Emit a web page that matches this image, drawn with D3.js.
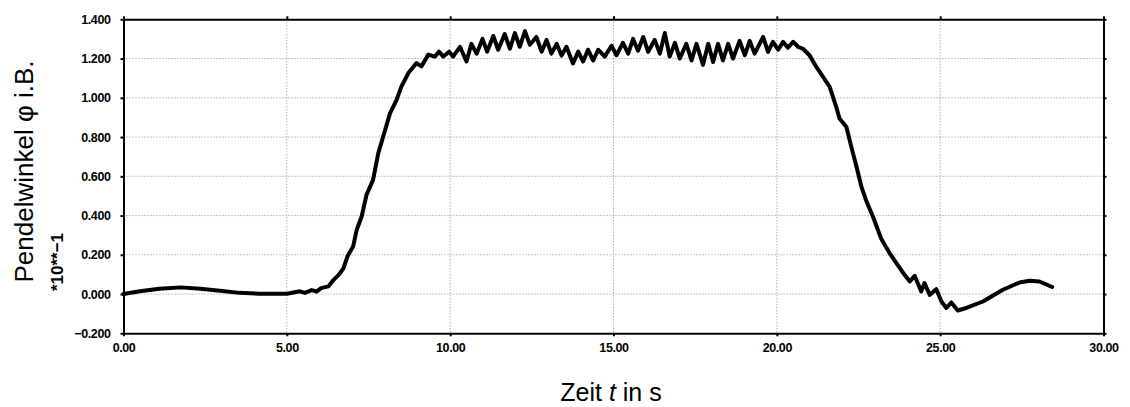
<!DOCTYPE html><meta charset="utf-8">
<html>
    <head>
        <title>Pendelwinkel</title>
        <script src="https://d3js.org/d3.v7.min.js" type="text/JavaScript"></script>
        <style>
            body { margin: 0; background: #fff; }
            svg { display: block; }
        </style>
    </head>
    <body>
        <svg id='viz'></svg>

        <script>
            // tick labels as printed on the chart
            var xTicks = [0, 5, 10, 15, 20, 25, 30];
            var xTickLabels = ["0.00", "5.00", "10.00", "15.00", "20.00", "25.00", "30.00"];
            var yTicks = [-0.2, 0, 0.2, 0.4, 0.6, 0.8, 1.0, 1.2, 1.4];
            var yTickLabels = ["\u22120.200", "0.000", "0.200", "0.400", "0.600", "0.800", "1.000", "1.200", "1.400"];

            // time in s
            var timeS = [
                0, 0.5, 1.1, 1.75, 2.35, 2.95, 3.55, 4.15, 5.0, 5.2,
                5.4, 5.55, 5.76, 5.91, 6.05, 6.27, 6.42, 6.6, 6.73, 6.85,
                7.03, 7.14, 7.29, 7.44, 7.64, 7.80, 7.95, 8.16, 8.36, 8.51,
                8.72, 8.97, 9.12, 9.33, 9.53, 9.66, 9.79, 9.97, 10.09, 10.30,
                10.50, 10.65, 10.81, 10.99, 11.13, 11.32, 11.47, 11.67, 11.83, 11.98,
                12.13, 12.29, 12.44, 12.64, 12.80, 12.95, 13.10, 13.26, 13.41, 13.56,
                13.76, 13.92, 14.07, 14.22, 14.38, 14.53, 14.73, 14.94, 15.09, 15.29,
                15.45, 15.60, 15.75, 15.91, 16.06, 16.26, 16.42, 16.57, 16.72, 16.88,
                17.03, 17.23, 17.39, 17.54, 17.74, 17.90, 18.05, 18.20, 18.35, 18.51,
                18.66, 18.86, 19.02, 19.17, 19.32, 19.58, 19.73, 19.88, 20.04, 20.19,
                20.34, 20.50, 20.65, 20.8, 21.0, 21.21, 21.4, 21.62, 21.82, 21.92,
                22.13, 22.28, 22.44, 22.59, 22.75, 22.94, 23.2, 23.45, 23.66, 23.91,
                24.07, 24.22, 24.42, 24.52, 24.68, 24.88, 25.04, 25.19, 25.34, 25.54,
                25.8, 26.31, 26.92, 27.43, 27.74, 28.04, 28.43
            ];

            // pendulum angle (axis units, *10**-1)
            var phiValues = [
                0, 0.014, 0.027, 0.034, 0.027, 0.017, 0.006, 0.002, 0.002, 0.008,
                0.014, 0.006, 0.02, 0.012, 0.03, 0.039, 0.07, 0.1, 0.13, 0.19,
                0.243, 0.328, 0.395, 0.506, 0.582, 0.718, 0.803, 0.922, 0.99, 1.058,
                1.126, 1.177, 1.16, 1.22, 1.21, 1.235, 1.21, 1.235, 1.21, 1.26,
                1.185, 1.275, 1.225, 1.30, 1.235, 1.315, 1.245, 1.325, 1.25, 1.33,
                1.26, 1.34, 1.27, 1.31, 1.235, 1.295, 1.225, 1.275, 1.215, 1.26,
                1.175, 1.235, 1.185, 1.245, 1.19, 1.245, 1.21, 1.265, 1.217, 1.28,
                1.225, 1.30, 1.24, 1.31, 1.234, 1.295, 1.225, 1.33, 1.21, 1.28,
                1.2, 1.275, 1.19, 1.275, 1.168, 1.275, 1.183, 1.275, 1.19, 1.275,
                1.2, 1.29, 1.217, 1.29, 1.225, 1.31, 1.234, 1.285, 1.245, 1.285,
                1.255, 1.285, 1.26, 1.25, 1.217, 1.157, 1.11, 1.055, 0.953, 0.894,
                0.851, 0.75, 0.648, 0.546, 0.47, 0.395, 0.28, 0.209, 0.158, 0.098,
                0.064, 0.093, 0.013, 0.056, -0.004, 0.025, -0.038, -0.071, -0.043, -0.084,
                -0.071, -0.038, 0.022, 0.059, 0.068, 0.064, 0.036
            ];

            var width = 1130;
            var height = 407;
            var margin = {left: 123.5, right: 26.5, top: 19.3, bottom: 73.7};
            var tickFont = "'Liberation Sans', Arial, sans-serif";

            var svg = d3.select("#viz").attr("width", width).attr("height", height);

            var x = d3.scaleLinear().domain([0, 30]).range([margin.left, width - margin.right]);
            var y = d3.scaleLinear().domain([-0.2, 1.4]).range([height - margin.bottom, margin.top]);

            var points = timeS.map(function(t, i) { return [t, phiValues[i]]; });

            // dotted grid
            var grid = svg.append("g").attr("class", "grid")
                .attr("stroke", "#8a8a8a")
                .attr("stroke-width", 1)
                .attr("stroke-dasharray", "1,2");

            grid.selectAll("line.gx")
                .data(xTicks.slice(1, -1))
                .enter().append("line")
                .attr("class", "gx")
                .attr("x1", function(d) { return x(d); })
                .attr("x2", function(d) { return x(d); })
                .attr("y1", y(1.4))
                .attr("y2", y(-0.2));

            grid.selectAll("line.gy")
                .data(yTicks.slice(1, -1))
                .enter().append("line")
                .attr("class", "gy")
                .attr("x1", x(0))
                .attr("x2", x(30))
                .attr("y1", function(d) { return y(d); })
                .attr("y2", function(d) { return y(d); });

            // the measured curve
            var line = d3.line()
                .x(function(d) { return x(d[0]); })
                .y(function(d) { return y(d[1]); });

            svg.append("path")
                .datum(points)
                .attr("fill", "none")
                .attr("stroke", "#000")
                .attr("stroke-width", 4)
                .attr("stroke-linejoin", "round")
                .attr("stroke-linecap", "round")
                .attr("d", line);

            // axes on all four sides
            function styleAxis(g) {
                g.select(".domain").attr("stroke", "#000").attr("stroke-width", 2);
                g.selectAll(".tick line").attr("stroke", "#000").attr("stroke-width", 2);
                g.selectAll("text")
                    .attr("fill", "#000")
                    .style("font-family", tickFont)
                    .style("font-weight", "bold")
                    .style("font-size", "12.5px")
                    .style("letter-spacing", "-0.4px");
            }

            svg.append("g")
                .attr("transform", "translate(0," + y(-0.2) + ")")
                .call(d3.axisBottom(x).tickValues(xTicks)
                    .tickFormat(function(d, i) { return xTickLabels[i]; })
                    .tickSizeOuter(0).tickSizeInner(3).tickPadding(7))
                .call(styleAxis);

            svg.append("g")
                .attr("transform", "translate(" + x(0) + ",0)")
                .call(d3.axisLeft(y).tickValues(yTicks)
                    .tickFormat(function(d, i) { return yTickLabels[i]; })
                    .tickSizeOuter(0).tickSizeInner(3).tickPadding(10))
                .call(styleAxis);

            svg.append("g")
                .attr("transform", "translate(0," + y(1.4) + ")")
                .call(d3.axisTop(x).tickValues(xTicks).tickFormat("")
                    .tickSizeOuter(0).tickSizeInner(3))
                .call(styleAxis);

            svg.append("g")
                .attr("transform", "translate(" + x(30) + ",0)")
                .call(d3.axisRight(y).tickValues(yTicks).tickFormat("")
                    .tickSizeOuter(0).tickSizeInner(3))
                .call(styleAxis);

            // axis titles
            svg.append("text")
                .attr("transform", "translate(33," + 171.5 + ") rotate(-90)")
                .attr("text-anchor", "middle")
                .style("font-family", "'Liberation Sans', Arial, sans-serif")
                .style("font-size", "26px")
                .text("Pendelwinkel \u03c6 i.B.");

            svg.append("text")
                .attr("transform", "translate(63," + 262 + ") rotate(-90)")
                .attr("text-anchor", "middle")
                .style("font-family", tickFont)
                .style("font-weight", "bold")
                .style("font-size", "17px")
                .text("*10**\u22121");

            var xTitle = svg.append("text")
                .attr("x", 611)
                .attr("y", 401)
                .attr("text-anchor", "middle")
                .style("font-family", "'Liberation Sans', Arial, sans-serif")
                .style("font-size", "25px");
            xTitle.append("tspan").text("Zeit ");
            xTitle.append("tspan").style("font-style", "italic").text("t");
            xTitle.append("tspan").text(" in s");
        </script>
    </body>
</html>
